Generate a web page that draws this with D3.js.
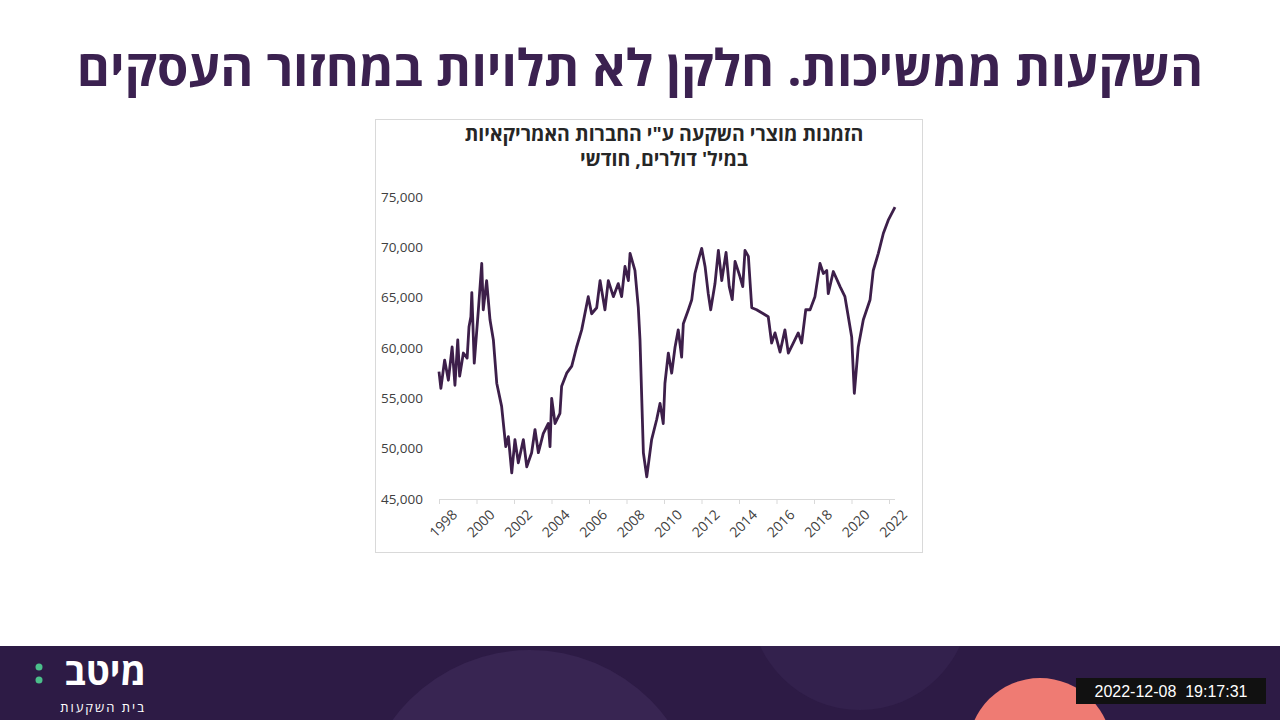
<!DOCTYPE html>
<html><head><meta charset="utf-8">
<script src="https://cdn.jsdelivr.net/npm/d3@7"></script>
<style>
body{margin:0;background:#fff;font-family:"Open Sans","Noto Sans",sans-serif;}
</style></head>
<body><svg id="chart" width="1280" height="720"></svg>
<script>
// decimal years and order values (USD mn)
const years = [1998.0,1998.1,1998.3,1998.5,1998.7,1998.85,1999.0,1999.1,1999.3,1999.5,1999.6,1999.7,1999.75,1999.88,
  2000.10,2000.28,2000.36,2000.54,2000.72,2000.90,2001.08,2001.34,2001.56,2001.70,2001.88,2002.05,2002.23,2002.50,2002.68,2002.94,
  2003.12,2003.30,2003.56,2003.83,2003.92,2004.01,2004.19,2004.45,2004.54,2004.81,2005.08,2005.34,2005.61,2005.96,2006.14,2006.41,
  2006.59,2006.85,2007.03,2007.30,2007.56,2007.74,2007.92,2008.10,2008.19,2008.45,2008.63,
  2008.72,2008.90,2009.08,2009.34,2009.61,2009.79,2009.96,2010.05,2010.23,2010.41,2010.59,2010.76,2010.94,2011.03,2011.30,2011.48,
  2011.65,2011.83,2012.01,2012.19,2012.36,2012.49,2012.72,2012.90,2013.08,2013.31,2013.48,2013.64,2013.79,2014.05,2014.20,2014.32,
  2014.50,2014.68,2014.94,2015.30,2015.56,2015.74,2015.92,2016.19,2016.45,2016.63,2016.90,2017.16,2017.34,2017.56,2017.79,2018.05,
  2018.32,2018.50,2018.68,2018.76,2019.03,2019.39,2019.65,2019.83,2020.01,2020.15,2020.36,2020.63,2020.99,2021.16,2021.43,2021.70,
  2021.96,2022.32];
const orders = [57650,56000,58800,56800,60100,56300,60800,57200,59500,59000,62100,63100,65500,58500,
  63800,68400,63800,66700,62800,60800,56500,54200,50200,51200,47600,50900,48600,50900,48200,49600,
  51900,49600,51500,52500,50200,55000,52500,53500,56200,57500,58200,60100,61800,65100,63400,64000,
  66700,63800,66700,65100,66400,65100,68100,66700,69400,67700,64000,
  60800,49600,47200,50900,52900,54500,52500,56500,59500,57500,60100,61800,59100,62400,63800,64800,
  67400,68700,69900,68100,65400,63800,66400,69700,66700,69500,66100,64800,68600,67100,66100,69700,
  69100,64000,63800,63400,63100,60500,61500,59600,61800,59500,60500,61500,60500,63800,63800,65100,
  68400,67400,67700,65400,67600,66100,65100,63100,61100,55500,60100,62800,64800,67700,69400,71400,
  72700,74000];
const yTicks = [45000,50000,55000,60000,65000,70000,75000];
const xTicks = d3.range(1998, 2023, 2);

const svg = d3.select("#chart");
const purple = "#3b2150";

svg.append("text").attr("x", 640).attr("y", 86).attr("text-anchor", "middle")
  .attr("font-size", 50.5).attr("font-weight", "bold").attr("fill", purple)
  .attr("font-family", "'Open Sans','Noto Sans',sans-serif")
  .text("השקעות ממשיכות. חלקן לא תלויות במחזור העסקים");

// chart frame
svg.append("rect").attr("x", 375.5).attr("y", 119.5).attr("width", 547).attr("height", 433)
  .attr("fill", "#fff").attr("stroke", "#d9d9d9");
svg.append("text").attr("x", 664).attr("y", 141).attr("text-anchor", "middle")
  .attr("font-size", 19.5).attr("font-weight", "bold").attr("fill", "#262626")
  .text("הזמנות מוצרי השקעה ע\"י החברות האמריקאיות");
svg.append("text").attr("x", 664).attr("y", 166).attr("text-anchor", "middle")
  .attr("font-size", 19.5).attr("font-weight", "bold").attr("fill", "#262626")
  .text("במיל' דולרים, חודשי");

const x = d3.scaleLinear().domain([1998, 2022]).range([439, 889]);
const y = d3.scaleLinear().domain([45000, 75000]).range([499, 197]);

const yAxis = svg.append("g").attr("transform", "translate(426,0)")
  .call(d3.axisLeft(y).tickValues(yTicks).tickSize(0).tickFormat(d3.format(",")));
yAxis.select(".domain").remove();
yAxis.selectAll("text").attr("font-size", 13.5).attr("fill", "#404040")
  .attr("font-family", "'Open Sans',sans-serif").attr("dx", 0);

const xAxis = svg.append("g").attr("transform", "translate(0,499)")
  .call(d3.axisBottom(x).tickValues(xTicks).tickSizeInner(5).tickSizeOuter(0).tickFormat(d3.format("d")));
xAxis.select(".domain").attr("stroke", "#d9d9d9").attr("d", "M439,0.5H895");
xAxis.selectAll(".tick line").attr("stroke", "#d9d9d9");
xAxis.selectAll("text").attr("font-size", 14).attr("fill", "#404040")
  .attr("font-family", "'Open Sans',sans-serif")
  .attr("text-anchor", "end").attr("transform", "translate(6,4) rotate(-45)");

const line = d3.line().x((d, i) => x(years[i])).y(d => y(d));
svg.append("path").datum(orders).attr("d", line).attr("fill", "none")
  .attr("stroke", "#3d1f4a").attr("stroke-width", 2.8).attr("stroke-linejoin", "round");

// footer
svg.append("clipPath").attr("id", "foot").append("rect")
  .attr("x", 0).attr("y", 646).attr("width", 1280).attr("height", 74);
const foot = svg.append("g").attr("clip-path", "url(#foot)");
foot.append("rect").attr("x", 0).attr("y", 646).attr("width", 1280).attr("height", 74).attr("fill", "#2d1b45");
foot.append("circle").attr("cx", 530).attr("cy", 820).attr("r", 170).attr("fill", "#382552");
foot.append("circle").attr("cx", 860).attr("cy", 600).attr("r", 110).attr("fill", "#33214d");
foot.append("circle").attr("cx", 1040).attr("cy", 750).attr("r", 72).attr("fill", "#ef7b73");
svg.append("text").attr("x", 146).attr("y", 685).attr("text-anchor", "end").attr("font-size", 37)
  .attr("font-weight", "bold").attr("fill", "#fff").text("מיטב");
svg.append("circle").attr("cx", 39).attr("cy", 667).attr("r", 3.5).attr("fill", "#4bbf8b");
svg.append("circle").attr("cx", 39).attr("cy", 680).attr("r", 3.5).attr("fill", "#4bbf8b");
svg.append("text").attr("x", 146).attr("y", 712).attr("text-anchor", "end").attr("font-size", 13)
  .attr("fill", "#fff").attr("letter-spacing", 2).text("בית השקעות");
svg.append("rect").attr("x", 1076).attr("y", 678).attr("width", 190).attr("height", 26).attr("fill", "#111");
svg.append("text").attr("x", 1171).attr("y", 697).attr("text-anchor", "middle").attr("font-size", 16)
  .attr("fill", "#fff").attr("font-family", "'Liberation Sans',sans-serif")
  .style("white-space", "pre").text("2022-12-08  19:17:31");
</script></body></html>
